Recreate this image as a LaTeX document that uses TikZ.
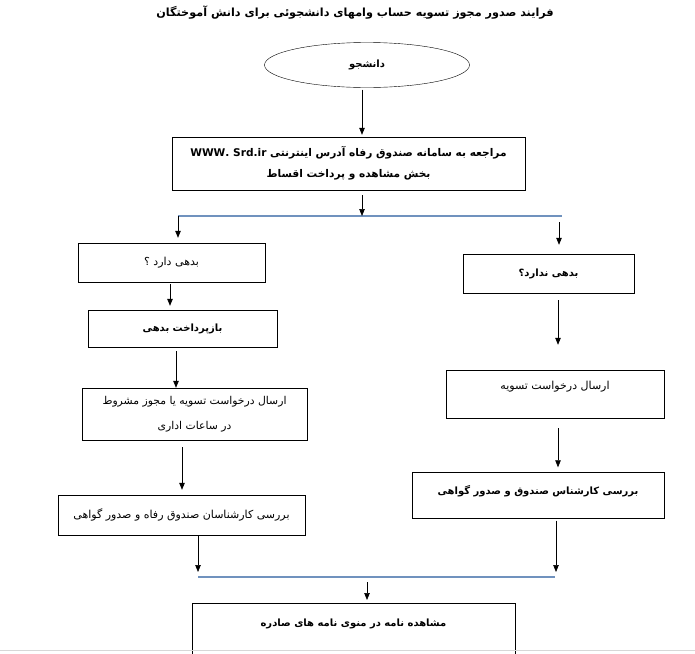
\documentclass[tikz,border=0pt]{standalone}
\usepackage{fontspec}
\usetikzlibrary{arrows.meta, shapes.geometric}
\TeXXeTstate=1
\newfontfamily\farsi[Script=Arabic]{DejaVu Sans}
\newcommand{\fatext}[1]{\beginR #1\endR}
\definecolor{branchblue}{RGB}{112,146,190}
\definecolor{pagegray}{RGB}{215,215,215}

\begin{document}
\begin{tikzpicture}[x=1pt, y=-1pt,
  flowbox/.style={draw, rectangle, inner sep=0pt, align=center, font=\farsi\fontsize{11}{21}\selectfont},
  boldbox/.style={flowbox, font=\farsi\bfseries\fontsize{10}{21}\selectfont},
  flow/.style={-{Triangle[length=7pt,width=5.5pt]}, line width=0.7pt},
  branchline/.style={draw=branchblue, line width=1.1pt}]
  \useasboundingbox (0,0) rectangle (695,653);
  \fill[white] (0,0) rectangle (695,653);
  \clip (0,0) rectangle (695,653);
  % title and start
  \node[font=\farsi\bfseries\fontsize{11.2}{14}\selectfont] (title) at (355,13) {\fatext{فرایند صدور مجوز تسویه حساب وامهای دانشجوئی برای دانش آموختگان}};
  \node[boldbox, ellipse, minimum width=205pt, minimum height=45pt] (student) at (367,65) {\fatext{دانشجو}};
  \node[boldbox, font=\farsi\bfseries\fontsize{10.6}{21}\selectfont, minimum width=353pt, minimum height=53pt] (portal) at (348.5,163.5) {\fatext{مراجعه به سامانه صندوق رفاه آدرس اینترنتی \beginL WWW. Srd.ir\endL}\\\fatext{بخش مشاهده و پرداخت اقساط}};
  % left branch
  \node[flowbox, minimum width=187pt, minimum height=39pt] (hasdebt) at (171.5,262.5) {\fatext{بدهی دارد ؟}};
  \node[boldbox, minimum width=189pt, minimum height=37pt] (repay) at (182.5,328.5) {\fatext{بازپرداخت بدهی}};
  \node[flowbox, font=\farsi\fontsize{10.8}{25}\selectfont, minimum width=225pt, minimum height=52pt] (reqcond) at (194.5,414) {\fatext{ارسال درخواست تسویه یا مجوز مشروط}\\\fatext{در ساعات اداری}};
  \node[flowbox, minimum width=247pt, minimum height=40pt] (review1) at (181.5,515) {\fatext{بررسی کارشناسان صندوق رفاه و صدور گواهی}};
  % right branch
  \node[boldbox, minimum width=171pt, minimum height=39pt] (nodebt) at (548.5,273.5) {\fatext{بدهی ندارد؟}};
  \node[flowbox, minimum width=218pt, text height=19pt, text depth=29pt] (reqsettle) at (555,394) {\fatext{ارسال درخواست تسویه}};
  \node[boldbox, minimum width=252pt, text height=22pt, text depth=24pt] (review2) at (538,495.5) {\fatext{بررسی کارشناس صندوق و صدور گواهی}};
  % end
  \node[boldbox, anchor=north, minimum width=323pt, text height=23pt, text depth=60pt] (final) at (353.5,603) {\fatext{مشاهده نامه در منوی نامه های صادره}};
  \coordinate (split) at (362,216);
  \coordinate (splitL) at (178,216);
  \coordinate (splitR) at (559,216);
  \coordinate (mergeL) at (198,577);
  \coordinate (mergeR) at (556,577);
  \coordinate (merge) at (367,577);
  \draw[branchline] (splitL) -- ([xshift=3pt]splitR);
  \draw[branchline] (mergeL) -- ([xshift=-1pt]mergeR);
  \draw[pagegray, line width=1pt] (0,650) -- (695,650);
  % arrows
  \draw[flow, shorten <=2pt, shorten >=2pt] ([xshift=-5pt]student.south) -- ([xshift=-5pt]student.south |- portal.north);
  \draw[flow, shorten <=5pt] (portal.south -| split) -- (split);
  \draw[flow, shorten >=5pt] (splitL) -- (splitL |- hasdebt.north);
  \draw[flow, shorten <=6pt, shorten >=9pt] (splitR) -- (splitR |- nodebt.north);
  \draw[flow, shorten <=2pt, shorten >=4pt] ([xshift=-1.5pt]hasdebt.south) -- ([xshift=-1.5pt]hasdebt.south |- repay.north);
  \draw[flow, shorten <=4pt] ([xshift=-6.5pt]repay.south) -- ([xshift=-6.5pt]repay.south |- reqcond.north);
  \draw[flow, shorten <=7pt, shorten >=5pt] ([xshift=-12.5pt]reqcond.south) -- ([xshift=-12.5pt]reqcond.south |- review1.north);
  \draw[flow, shorten >=5pt] (review1.south -| mergeL) -- (mergeL);
  \draw[flow, shorten <=7pt, shorten >=25pt] ([xshift=9.5pt]nodebt.south) -- ([xshift=9.5pt]nodebt.south |- reqsettle.north);
  \draw[flow, shorten <=10pt, shorten >=5pt] ([xshift=3pt]reqsettle.south) -- ([xshift=3pt]reqsettle.south |- review2.north);
  \draw[flow, shorten <=2pt, shorten >=5pt] (review2.south -| mergeR) -- (mergeR);
  \draw[flow, shorten <=5pt, shorten >=3pt] (merge) -- (merge |- final.north);
\end{tikzpicture}
\end{document}
